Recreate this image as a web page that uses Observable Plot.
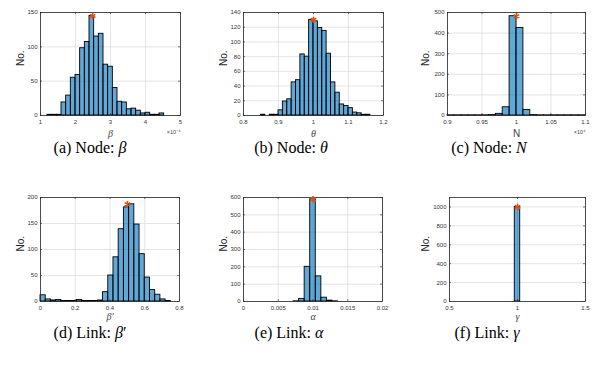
<!DOCTYPE html>
<html><head><meta charset="utf-8">
<script src="https://cdn.jsdelivr.net/npm/d3@7"></script>
<script src="https://cdn.jsdelivr.net/npm/@observablehq/plot@0.6"></script>
<style>
body{margin:0;background:#fff;}
#wrap{position:relative;width:595px;height:366px;overflow:hidden;background:#fff;}
.panel{position:absolute;}
.cap{position:absolute;font-family:"Liberation Serif","Times New Roman",serif;font-size:16px;color:#000;white-space:nowrap;transform:translate(-50%,-50%);}
.cap i{font-style:italic;}
</style></head><body><div id="wrap"></div>
<script>
// ---- data ----
// (a) Node: beta  (x in units of 1e-4)
const betaEdges = [1.2,1.333,1.467,1.6,1.733,1.867,2.0,2.133,2.267,2.4,2.533,2.667,2.8,2.933,3.067,3.2,3.333,3.467,3.6,3.733,3.867,4.0,4.133,4.267,4.4,4.533];
const betaCounts = [1,1,1,19,29,55,59,98,107,145,115,119,74,71,40,20,19,9,10,7,3,4,1,1,3];
const betaMarker = [2.49, 145];
const betaXTicks = [1,2,3,4,5];
const betaYTicks = [0,50,100,150];
// (b) Node: theta
const thetaEdges = [0.85,0.8625,0.875,0.8875,0.9,0.9125,0.925,0.9375,0.95,0.9625,0.975,0.9875,1.0,1.0125,1.025,1.0375,1.05,1.0625,1.075,1.0875,1.1,1.1125,1.125,1.1375,1.15,1.1625];
const thetaCounts = [1,0,1,1,7,19,22,45,48,83,80,130,128,119,115,84,45,31,15,13,10,4,3,1,1];
const thetaMarker = [1.0, 130];
const thetaXTicks = [0.8,0.9,1,1.1,1.2];
const thetaYTicks = [0,20,40,60,80,100,120,140];
// (c) Node: N  (x in units of 1e4)
const nEdges = [0.9,0.91,0.92,0.93,0.94,0.95,0.96,0.97,0.98,0.99,1.0,1.01,1.02,1.03,1.04,1.05,1.06,1.07,1.08,1.09,1.1];
const nCounts = [1,1,1,1,1,1,2,8,40,482,425,27,2,1,1,1,1,1,1,1];
const nMarker = [1.0, 482];
const nXTicks = [0.9,0.95,1,1.05,1.1];
const nYTicks = [0,100,200,300,400,500];
// (d) Link: beta'
const betaPEdges = [0,0.03,0.06,0.09,0.12,0.15,0.18,0.21,0.24,0.27,0.3,0.33,0.36,0.39,0.42,0.45,0.48,0.51,0.54,0.57,0.6,0.63,0.66,0.69,0.72,0.75];
const betaPCounts = [12,4,2,3,1,1,1,3,1,1,1,2,18,50,85,139,181,187,148,91,46,22,13,4,1];
const betaPMarker = [0.5, 187];
const betaPXTicks = [0,0.2,0.4,0.6,0.8];
const betaPYTicks = [0,50,100,150,200];
// (e) Link: alpha
const alphaEdges = [0,0.0008,0.0016,0.0024,0.0032,0.004,0.0048,0.0056,0.0064,0.0072,0.008,0.0088,0.0096,0.0104,0.0112,0.012,0.0128,0.0136,0.0144,0.0152,0.016,0.0168,0.0176,0.0184,0.0192,0.02];
const alphaCounts = [0,0,0,0,0,0,0,0,0,1,15,200,590,145,22,5,1,0,0,0,0,0,0,0,0];
const alphaMarker = [0.01, 590];
const alphaXTicks = [0,0.005,0.01,0.015,0.02];
const alphaYTicks = [0,100,200,300,400,500,600];
// (f) Link: gamma
const gammaEdges = [0.5,0.54,0.58,0.62,0.66,0.7,0.74,0.78,0.82,0.86,0.9,0.94,0.98,1.02,1.06,1.1,1.14,1.18,1.22,1.26,1.3,1.34,1.38,1.42,1.46,1.5];
const gammaCounts = [0,0,0,0,0,0,0,0,0,0,0,0,1000,0,0,0,0,0,0,0,0,0,0,0,0];
const gammaMarker = [1, 1000];
const gammaXTicks = [0.5,1,1.5];
const gammaYTicks = [0,200,400,600,800,1000];

const captions = [
  {html: "(a) Node: <i>β</i>", x: 90, y: 148},
  {html: "(b) Node: <i>θ</i>", x: 291, y: 148},
  {html: "(c) Node: <i>N</i>", x: 489, y: 148},
  {html: "(d) Link: <i>β</i>′", x: 90, y: 333},
  {html: "(e) Link: <i>α</i>", x: 289, y: 333},
  {html: "(f) Link: <i>γ</i>", x: 487, y: 333}
];

// ---- drawing ----
const wrap = document.getElementById("wrap");
const mL = 40, mT = 12, mR = 12, mB = 28;

function panel(cfg) {
  const bins = cfg.counts.map((c, i) => ({x1: cfg.edges[i], x2: cfg.edges[i + 1], y: c}));
  const W = cfg.boxW, H = cfg.boxH;
  const fmt = d => String(d);
  const marks = [
    Plot.gridX(cfg.xTicks, {stroke: "#dedede", strokeOpacity: 1, strokeWidth: 0.8}),
    Plot.gridY(cfg.yTicks, {stroke: "#dedede", strokeOpacity: 1, strokeWidth: 0.8}),
    Plot.rectY(bins, {x1: "x1", x2: "x2", y: "y", fill: "#0072BD", fillOpacity: 0.62, stroke: "#000", strokeWidth: 0.9}),
    Plot.frame({stroke: "#262626", strokeWidth: 0.8}),
    Plot.tickX(cfg.xTicks, {x: d => d, insetTop: H - 2, stroke: "#262626", strokeWidth: 0.6}),
    Plot.tickX(cfg.xTicks, {x: d => d, insetBottom: H - 2, stroke: "#262626", strokeWidth: 0.6}),
    Plot.tickY(cfg.yTicks, {y: d => d, insetRight: W - 2, stroke: "#262626", strokeWidth: 0.6}),
    Plot.tickY(cfg.yTicks, {y: d => d, insetLeft: W - 2, stroke: "#262626", strokeWidth: 0.6}),
    Plot.axisX(cfg.xTicks, {tickSize: 0, tickPadding: 4, label: null, tickFormat: fmt, fill: "#333"}),
    Plot.axisY(cfg.yTicks, {tickSize: 0, tickPadding: 3, label: null, tickFormat: fmt, fill: "#333"}),
    Plot.dot([cfg.marker], {x: d => d[0], y: d => d[1], symbol: "asterisk", stroke: "#D95319", r: 3, strokeWidth: 1.6}),
    Plot.text([cfg.xLabel], {frameAnchor: "bottom", dy: cfg.labelDy, lineAnchor: "middle",
      fontFamily: cfg.labelSans ? "Liberation Sans, Arial, sans-serif" : "Liberation Serif, Times New Roman, serif",
      fontStyle: cfg.labelSans ? "normal" : "italic", fontSize: cfg.labelSans ? 10 : 10, fill: "#444"}),
    Plot.text(["No."], {frameAnchor: "left", rotate: -90, dx: cfg.noDx, dy: 2, lineAnchor: "middle",
      fontFamily: "Liberation Sans, Arial, sans-serif", fontSize: 10, fill: "#262626"})
  ];
  if (cfg.exp) {
    marks.push(Plot.text([cfg.exp], {frameAnchor: "bottom-right", dy: cfg.labelDy - 1.5, textAnchor: "end", lineAnchor: "middle",
      fontFamily: "Liberation Sans, Arial, sans-serif", fontSize: 5.5, fill: "#444"}));
  }
  const svg = Plot.plot({
    width: mL + W + mR, height: mT + H + mB,
    marginLeft: mL, marginTop: mT, marginRight: mR, marginBottom: mB,
    style: {fontFamily: "Liberation Sans, Arial, sans-serif", fontSize: "6px", color: "#333", background: "transparent", overflow: "visible"},
    x: {domain: cfg.xDomain},
    y: {domain: cfg.yDomain},
    marks
  });
  svg.classList.add("panel");
  svg.style.left = cfg.left + "px";
  svg.style.top = cfg.top + "px";
  wrap.appendChild(svg);
}

panel({edges: betaEdges, counts: betaCounts, marker: betaMarker, xTicks: betaXTicks, yTicks: betaYTicks,
  xDomain: [1, 5], yDomain: [0, 150], boxW: 140, boxH: 103, left: 0, top: 0, xLabel: "β", exp: "×10⁻⁴", labelDy: 18, noDx: -20});
panel({edges: thetaEdges, counts: thetaCounts, marker: thetaMarker, xTicks: thetaXTicks, yTicks: thetaYTicks,
  xDomain: [0.8, 1.2], yDomain: [0, 140], boxW: 140, boxH: 103, left: 203, top: 0, xLabel: "θ", labelDy: 18, noDx: -20});
panel({edges: nEdges, counts: nCounts, marker: nMarker, xTicks: nXTicks, yTicks: nYTicks,
  xDomain: [0.9, 1.1], yDomain: [0, 500], boxW: 138, boxH: 103, left: 407, top: 0, xLabel: "N", labelSans: true, exp: "×10⁴", labelDy: 18, noDx: -22});
panel({edges: betaPEdges, counts: betaPCounts, marker: betaPMarker, xTicks: betaPXTicks, yTicks: betaPYTicks,
  xDomain: [0, 0.8], yDomain: [0, 200], boxW: 139, boxH: 104, left: 0, top: 185, xLabel: "β′", labelDy: 15, noDx: -20});
panel({edges: alphaEdges, counts: alphaCounts, marker: alphaMarker, xTicks: alphaXTicks, yTicks: alphaYTicks,
  xDomain: [0, 0.02], yDomain: [0, 600], boxW: 139, boxH: 104, left: 203, top: 185, xLabel: "α", labelDy: 15, noDx: -20});
panel({edges: gammaEdges, counts: gammaCounts, marker: gammaMarker, xTicks: gammaXTicks, yTicks: gammaYTicks,
  xDomain: [0.5, 1.5], yDomain: [0, 1100], boxW: 136, boxH: 104, left: 409, top: 185, xLabel: "γ", labelDy: 15, noDx: -24});

for (const c of captions) {
  const d = document.createElement("div");
  d.className = "cap";
  d.innerHTML = c.html;
  d.style.left = c.x + "px";
  d.style.top = c.y + "px";
  wrap.appendChild(d);
}
</script>
</body></html>
